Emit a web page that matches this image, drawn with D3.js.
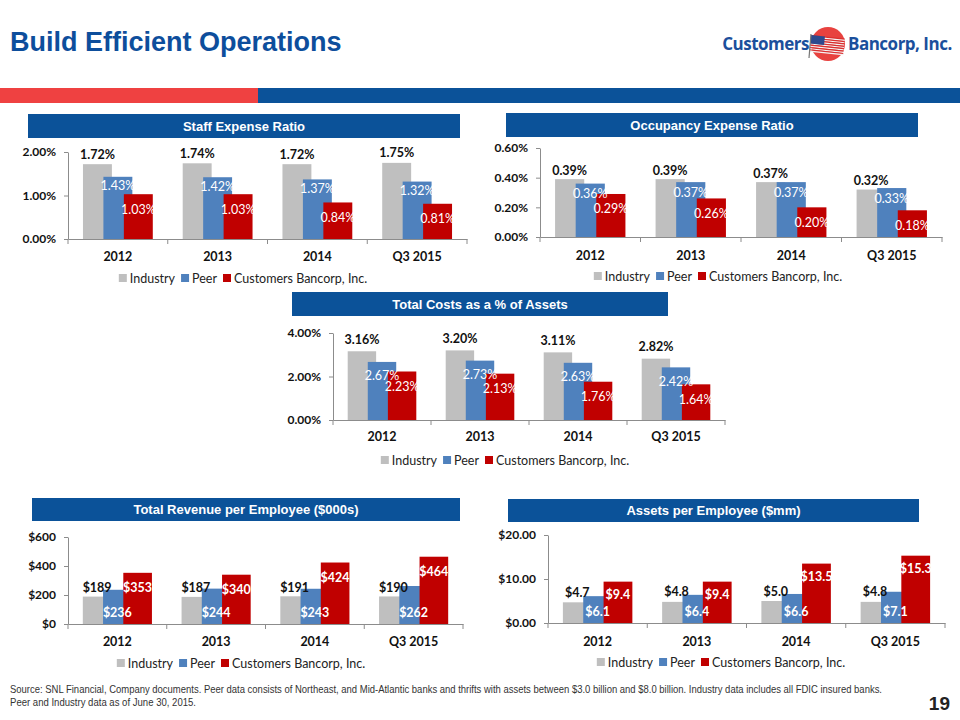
<!DOCTYPE html>
<html>
<head>
<meta charset="utf-8">
<script src="https://cdn.jsdelivr.net/npm/d3@7"></script>
<style>
    body { margin: 0; background: #fff; }
    svg { display: block; }
</style>
</head>
<body>
<svg id="slide" width="960" height="720"></svg>
<script>
// categories and series
const years = ["2012", "2013", "2014", "Q3 2015"];
const seriesNames = ["Industry", "Peer", "Customers Bancorp, Inc."];

// Staff Expense Ratio (%)
const staffIndustry = [1.72, 1.74, 1.72, 1.75];
const staffPeer = [1.43, 1.42, 1.37, 1.32];
const staffCustomers = [1.03, 1.03, 0.84, 0.81];
const staffTicks = [0, 1, 2];

// Occupancy Expense Ratio (%)
const occIndustry = [0.39, 0.39, 0.37, 0.32];
const occPeer = [0.36, 0.37, 0.37, 0.33];
const occCustomers = [0.29, 0.26, 0.20, 0.18];
const occTicks = [0, 0.2, 0.4, 0.6];

// Total Costs as a % of Assets
const costIndustry = [3.16, 3.20, 3.11, 2.82];
const costPeer = [2.67, 2.73, 2.63, 2.42];
const costCustomers = [2.23, 2.13, 1.76, 1.64];
const costTicks = [0, 2, 4];

// Total Revenue per Employee ($000s)
const revIndustry = [189, 187, 191, 190];
const revPeer = [236, 244, 243, 262];
const revCustomers = [353, 340, 424, 464];
const revTicks = [0, 200, 400, 600];

// Assets per Employee ($mm)
const assetIndustry = [4.7, 4.8, 5.0, 4.8];
const assetPeer = [6.1, 6.4, 6.6, 7.1];
const assetCustomers = [9.4, 9.4, 13.5, 15.3];
const assetTicks = [0, 10, 20];

const colors = ["#bfbfbf", "#4f81bd", "#c00000"];
const headerBlue = "#0b5299";
const axisGrey = "#8c8c8c";
const chartFont = "Lato, 'Open Sans', sans-serif";

const pct = v => v.toFixed(2) + "%";
const dollar0 = v => "$" + v;
const dollar1 = v => "$" + v.toFixed(1);
const dollar2 = v => "$" + v.toFixed(2);

const svg = d3.select("#slide");

// ---- slide chrome ----
svg.append("text")
    .attr("x", 10)
    .attr("y", 51)
    .attr("font-family", "'Liberation Sans', Arial, sans-serif")
    .attr("font-weight", "bold")
    .attr("font-size", "27px")
    .attr("fill", "#0d4e9c")
    .text("Build Efficient Operations");

svg.append("rect").attr("x", 0).attr("y", 88).attr("width", 258).attr("height", 15).attr("fill", "#ef4141");
svg.append("rect").attr("x", 258).attr("y", 88).attr("width", 702).attr("height", 15).attr("fill", "#0b5299");

// logo
var logo = svg.append("g");
logo.append("text")
    .attr("x", 809).attr("y", 50)
    .attr("text-anchor", "end")
    .attr("font-family", "'Open Sans', sans-serif")
    .attr("font-weight", "bold")
    .attr("font-size", "17px")
    .attr("letter-spacing", "-0.5")
    .attr("fill", "#1b4f9c")
    .text("Customers");
logo.append("circle").attr("cx", 828).attr("cy", 44).attr("r", 17).attr("fill", "#e8423f");
var flag = logo.append("g").attr("transform", "translate(811,35) rotate(6)");
d3.range(7).forEach(function (i) {
    flag.append("rect")
        .attr("x", 0).attr("y", i * 2.4)
        .attr("width", 34).attr("height", 1.3)
        .attr("fill", "#d83030");
    flag.append("rect")
        .attr("x", 0).attr("y", i * 2.4 + 1.2)
        .attr("width", 34).attr("height", 1.2)
        .attr("fill", "#f4f4f4");
});
flag.append("rect").attr("x", 0).attr("y", 0).attr("width", 14).attr("height", 8.5).attr("fill", "#2c4a8e");
logo.append("line")
    .attr("x1", 811).attr("y1", 34).attr("x2", 809).attr("y2", 58)
    .attr("stroke", "#777").attr("stroke-width", 1.2);
logo.append("text")
    .attr("x", 848).attr("y", 50)
    .attr("font-family", "'Open Sans', sans-serif")
    .attr("font-weight", "bold")
    .attr("font-size", "17px")
    .attr("letter-spacing", "-0.5")
    .attr("fill", "#1b4f9c")
    .text("Bancorp, Inc.");

// footer
var footFont = "'Liberation Sans Narrow', 'Arial Narrow', 'Liberation Sans', sans-serif";
svg.append("text")
    .attr("x", 10).attr("y", 693)
    .attr("font-family", footFont).attr("font-size", "10.5px").attr("fill", "#333")
    .attr("textLength", 872).attr("lengthAdjust", "spacingAndGlyphs")
    .text("Source: SNL Financial, Company documents. Peer data consists of Northeast, and Mid-Atlantic banks and thrifts with assets between $3.0 billion and $8.0 billion. Industry data includes all FDIC insured banks.");
svg.append("text")
    .attr("x", 10).attr("y", 706)
    .attr("font-family", footFont).attr("font-size", "10.5px").attr("fill", "#333")
    .attr("textLength", 186).attr("lengthAdjust", "spacingAndGlyphs")
    .text("Peer and Industry data as of June 30, 2015.");
svg.append("text")
    .attr("x", 950).attr("y", 710)
    .attr("text-anchor", "end")
    .attr("font-family", footFont).attr("font-weight", "bold").attr("font-size", "19px").attr("fill", "#222")
    .text("19");

// ---- charts ----
function drawChart(cfg) {
    var g = svg.append("g");

    // title banner
    g.append("rect")
        .attr("x", cfg.box[0]).attr("y", cfg.box[1])
        .attr("width", cfg.box[2]).attr("height", cfg.box[3])
        .attr("fill", headerBlue);
    g.append("text")
        .attr("x", cfg.box[0] + cfg.box[2] / 2)
        .attr("y", cfg.box[1] + cfg.box[3] / 2)
        .attr("dy", "0.36em")
        .attr("text-anchor", "middle")
        .attr("font-family", "'Liberation Sans', Arial, sans-serif")
        .attr("font-weight", "bold")
        .attr("font-size", "13px")
        .attr("fill", "#fff")
        .text(cfg.title);

    var x = d3.scaleBand().domain(years).range([cfg.x0, cfg.x1]);
    var y = d3.scaleLinear().domain([0, d3.max(cfg.ticks)]).range([cfg.yBase, cfg.yTop]);
    var bw = x.bandwidth();
    var barW = bw * 0.29;
    var sub = d3.scalePoint().domain(seriesNames).range([-bw * 0.205, bw * 0.205]);

    var table = years.map(function (yr, i) {
        return {year: yr, values: cfg.series.map(function (s) { return s[i]; })};
    });

    // bars, drawn series by series so later series overlap earlier ones
    seriesNames.forEach(function (name, si) {
        g.append("g")
            .attr("fill", colors[si])
            .selectAll("rect")
            .data(table)
            .enter().append("rect")
            .attr("x", function (d) { return x(d.year) + bw / 2 + sub(name) - barW / 2; })
            .attr("y", function (d) { return y(d.values[si]); })
            .attr("width", barW)
            .attr("height", function (d) { return cfg.yBase - y(d.values[si]); });
    });

    // y axis
    var yAxis = g.append("g")
        .attr("transform", "translate(" + cfg.x0 + ",0)")
        .call(d3.axisLeft(y).tickValues(cfg.ticks).tickFormat(cfg.tickFmt).tickSize(4).tickSizeOuter(0).tickPadding(8));
    yAxis.select(".domain").attr("stroke", axisGrey);
    yAxis.selectAll(".tick line").attr("stroke", axisGrey);
    yAxis.selectAll(".tick text")
        .attr("fill", "#111")
        .attr("font-family", chartFont)
        .attr("font-weight", "bold")
        .attr("font-size", "12px");

    // x axis
    var xAxis = g.append("g")
        .attr("transform", "translate(0," + cfg.yBase + ")")
        .call(d3.axisBottom(x).tickSize(0).tickSizeOuter(0).tickPadding(cfg.xLabelY - cfg.yBase - 4.5));
    xAxis.select(".domain").attr("stroke", axisGrey);
    xAxis.selectAll(".tick text")
        .attr("fill", "#111")
        .attr("font-family", chartFont)
        .attr("font-weight", "bold")
        .attr("font-size", "12.5px");
    xAxis.selectAll(".sep")
        .data(years.map(function (d) { return x(d); }).concat([cfg.x1]))
        .enter().append("line")
        .attr("class", "sep")
        .attr("x1", function (d) { return d; })
        .attr("x2", function (d) { return d; })
        .attr("y1", 0).attr("y2", 5)
        .attr("stroke", axisGrey);

    // data labels
    seriesNames.forEach(function (name, si) {
        var lab = cfg.labels[si];
        g.append("g")
            .selectAll("text")
            .data(table)
            .enter().append("text")
            .attr("x", function (d) { return x(d.year) + bw / 2 + sub(name); })
            .attr("y", function (d) {
                return lab.at === "base" ? cfg.yBase + lab.off : y(d.values[si]) + lab.off;
            })
            .attr("dy", "0.36em")
            .attr("text-anchor", "middle")
            .attr("font-family", chartFont)
            .attr("font-weight", lab.weight)
            .attr("font-size", "12.5px")
            .attr("fill", lab.color)
            .text(function (d) { return cfg.labelFmt(d.values[si]); });
    });

    // legend
    var legend = g.append("g").attr("font-family", chartFont).attr("font-size", "12.5px");
    var cx = 0;
    seriesNames.forEach(function (name, si) {
        legend.append("rect")
            .attr("x", cx).attr("y", -4)
            .attr("width", 8).attr("height", 8)
            .attr("fill", colors[si]);
        var t = legend.append("text")
            .attr("x", cx + 11).attr("y", 0)
            .attr("dy", "0.36em")
            .attr("fill", "#222")
            .text(name);
        cx += 11 + t.node().getComputedTextLength() + 6;
    });
    cx -= 6;
    legend.attr("transform", "translate(" + (cfg.legendCx - cx / 2) + "," + cfg.legendY + ")");
}

var whiteLab = function (at, off, weight) { return {at: at, off: off, color: "#fff", weight: weight || "normal"}; };
var blackLab = function (off) { return {at: "top", off: off, color: "#111", weight: "bold"}; };

drawChart({
    title: "Staff Expense Ratio",
    box: [28, 114, 432, 24],
    x0: 68, x1: 467, yBase: 239, yTop: 152,
    series: [staffIndustry, staffPeer, staffCustomers],
    ticks: staffTicks, tickFmt: pct, labelFmt: pct,
    labels: [blackLab(-10), whiteLab("top", 9), whiteLab("top", 15)],
    xLabelY: 257, legendY: 278, legendCx: 243
});

drawChart({
    title: "Occupancy Expense Ratio",
    box: [506, 113, 412, 24],
    x0: 540, x1: 942, yBase: 237, yTop: 148,
    series: [occIndustry, occPeer, occCustomers],
    ticks: occTicks, tickFmt: pct, labelFmt: pct,
    labels: [blackLab(-9), whiteLab("top", 10), whiteLab("top", 15)],
    xLabelY: 256, legendY: 276, legendCx: 718
});

drawChart({
    title: "Total Costs as a % of Assets",
    box: [292, 292, 376, 24],
    x0: 333, x1: 725, yBase: 420, yTop: 333,
    series: [costIndustry, costPeer, costCustomers],
    ticks: costTicks, tickFmt: pct, labelFmt: pct,
    labels: [blackLab(-12), whiteLab("top", 14), whiteLab("top", 15)],
    xLabelY: 437, legendY: 460, legendCx: 505
});

drawChart({
    title: "Total Revenue per Employee ($000s)",
    box: [32, 498, 428, 23],
    x0: 68, x1: 463, yBase: 624, yTop: 537,
    series: [revIndustry, revPeer, revCustomers],
    ticks: revTicks, tickFmt: dollar0, labelFmt: dollar0,
    labels: [blackLab(-9), whiteLab("base", -12, "bold"), whiteLab("top", 15, "bold")],
    xLabelY: 642, legendY: 663, legendCx: 241
});

drawChart({
    title: "Assets per Employee ($mm)",
    box: [508, 499, 411, 23],
    x0: 548, x1: 945, yBase: 623, yTop: 535,
    series: [assetIndustry, assetPeer, assetCustomers],
    ticks: assetTicks, tickFmt: dollar2, labelFmt: dollar1,
    labels: [blackLab(-10), whiteLab("base", -12, "bold"), whiteLab("top", 13, "bold")],
    xLabelY: 642, legendY: 662, legendCx: 721
});
</script>
</body>
</html>
